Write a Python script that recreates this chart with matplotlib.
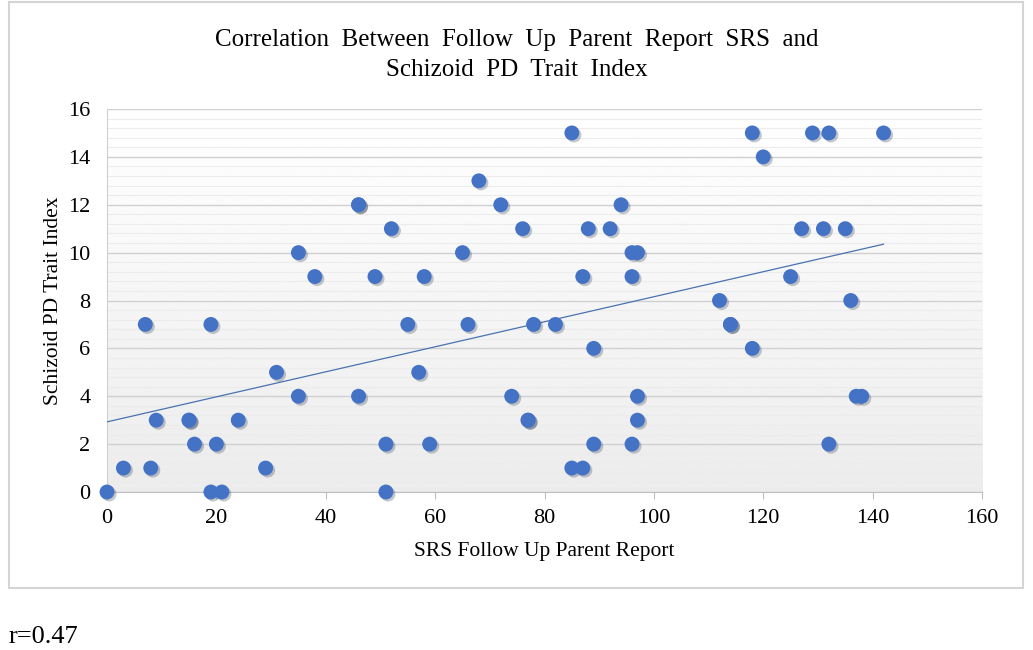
import numpy as np
import matplotlib
matplotlib.use("Agg")
import matplotlib.pyplot as plt
import matplotlib.patheffects as pe
from matplotlib.patches import Rectangle

plt.rcParams['font.family'] = ['Liberation Serif', 'DejaVu Serif']

# SRS follow up parent report score (x) vs schizoid PD trait index (y)
srs = [0, 3, 7, 8, 9, 15, 15, 16, 19, 19, 20, 21, 24, 29, 31, 35, 35, 38,
       46, 46, 46, 49, 51, 51, 52, 55, 57, 58, 59, 65, 66, 68, 72, 74, 76,
       77, 77, 78, 82, 85, 85, 87, 87, 88, 89, 89, 92, 94, 96, 96, 96, 97,
       97, 97, 112, 114, 114, 118, 118, 120, 125, 127, 129, 131, 132, 132,
       135, 136, 137, 138, 142]
schizoid = [0, 1, 7, 1, 3, 3, 3, 2, 7, 0, 2, 0, 3, 1, 5, 10, 4, 9,
            12, 12, 4, 9, 2, 0, 11, 7, 5, 9, 2, 10, 7, 13, 12, 4, 11,
            3, 3, 7, 7, 15, 1, 9, 1, 11, 6, 2, 11, 12, 10, 9, 2, 10,
            4, 3, 8, 7, 7, 15, 6, 14, 9, 11, 15, 11, 15, 2,
            11, 8, 4, 4, 15]

x_ticks = [0, 20, 40, 60, 80, 100, 120, 140, 160]
y_ticks = [0, 2, 4, 6, 8, 10, 12, 14, 16]

title = "Correlation  Between  Follow  Up  Parent  Report  SRS  and\nSchizoid  PD  Trait  Index"
x_label = "SRS Follow Up Parent Report"
y_label = "Schizoid PD Trait Index"
note = "r=0.47"

fig = plt.figure(figsize=(10.33, 6.5), dpi=100)
fig.patch.set_facecolor('white')

# outer chart frame
fig.patches.append(Rectangle((9 / 1033, 1 - 588 / 650), 1014 / 1033, 586 / 650,
                             transform=fig.transFigure, fill=False,
                             edgecolor='#d4d4d4', linewidth=1.5))

ax = fig.add_axes([107 / 1033, 1 - 492 / 650, 875 / 1033, 383 / 650])

# gradient background (white at top, light grey at bottom)
grad = np.linspace(1.0, 0.925, 256).reshape(-1, 1)
ax.imshow(grad, cmap='gray', vmin=0, vmax=1, aspect='auto',
          extent=[0, 1, 0, 1], transform=ax.transAxes, zorder=0)

ax.set_xlim(0, 160)
ax.set_ylim(0, 16)
ax.set_xticks(x_ticks)
ax.set_yticks(y_ticks)
ax.set_yticks(np.arange(0, 16.01, 0.4), minor=True)
ax.grid(which='major', axis='y', color='#d0d0d0', linewidth=1.0, zorder=1)
ax.grid(which='minor', axis='y', color='#ececec', linewidth=0.8, zorder=1)
ax.tick_params(axis='y', which='both', length=0, labelsize=16, pad=12)
ax.tick_params(axis='x', which='major', length=5, color='#bfbfbf',
               labelsize=16, pad=7)
ax.tick_params(axis='x', which='minor', length=0)
for side in ['top', 'right']:
    ax.spines[side].set_visible(False)
ax.spines['left'].set_color('#d0d0d0')
ax.spines['bottom'].set_color('#bfbfbf')

ax.scatter(srs, schizoid, s=115, color='#4472C4', zorder=4, linewidths=0,
           clip_on=False,
           path_effects=[pe.SimplePatchShadow(offset=(1.5, -1.5), alpha=0.25),
                         pe.Normal()])

# linear trend line
slope, intercept = np.polyfit(srs, schizoid, 1)
xs = np.array([min(srs), max(srs)])
ax.plot(xs, intercept + slope * xs, color='#4a72b0', linewidth=0.9, zorder=3)

fig.text(0.5, 1 - 55 / 650, title, fontsize=18, ha='center', va='center',
         linespacing=1.5)
ax.set_xlabel(x_label, fontsize=15.5, labelpad=10)
ax.set_ylabel(y_label, fontsize=15.5, labelpad=4)

fig.text(9 / 1033, 1 - 643 / 650, note, fontsize=19, ha='left', va='baseline')

fig.savefig('out.png', dpi=100, facecolor='white')
